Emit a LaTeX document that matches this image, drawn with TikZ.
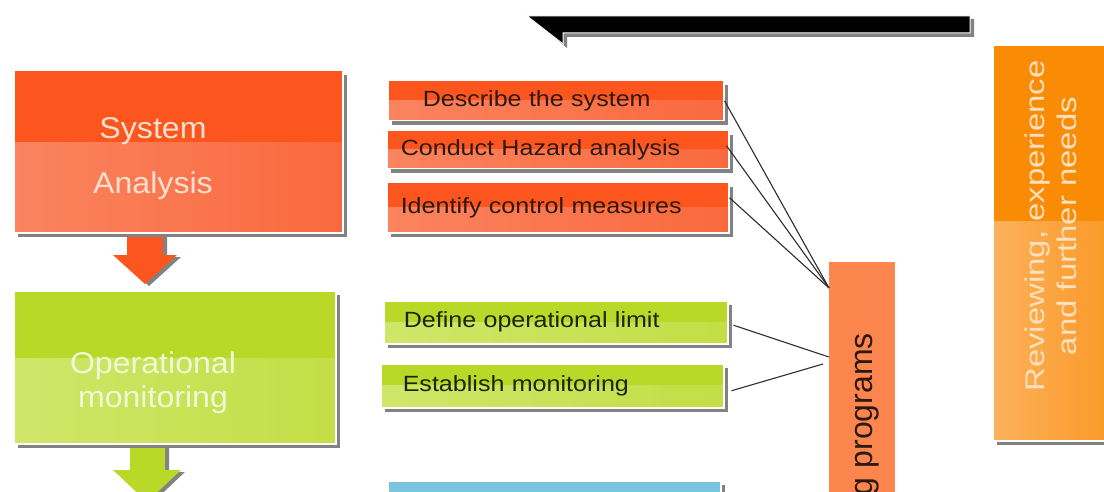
\documentclass[tikz,border=0pt]{standalone}
\usepackage{fontspec}
\setmainfont{Liberation Sans}
\newfontfamily\fsmall{Liberation Sans}[FakeStretch=1.14]
\newfontfamily\fbig{Liberation Sans}[FakeStretch=1.07]
\newfontfamily\fside{Liberation Sans}[FakeStretch=1.22]
\usetikzlibrary{shadows}

\definecolor{redTop}{RGB}{252,86,30}
\definecolor{redLow}{RGB}{250,132,95}
\definecolor{redLowR}{RGB}{250,105,62}
\definecolor{limeTop}{RGB}{186,216,40}
\definecolor{limeLow}{RGB}{208,230,105}
\definecolor{limeLowR}{RGB}{195,222,70}
\definecolor{orgTop}{RGB}{250,140,5}
\definecolor{orgLow}{RGB}{252,178,90}
\definecolor{orgLowR}{RGB}{250,150,35}
\definecolor{barOrg}{RGB}{252,134,78}
\definecolor{skyBlue}{RGB}{122,196,224}
\definecolor{shadowGray}{RGB}{130,130,130}
\definecolor{linkGray}{RGB}{45,45,45}
\definecolor{redText}{RGB}{45,25,15}
\definecolor{limeText}{RGB}{30,35,10}
\definecolor{paleRed}{RGB}{255,224,208}
\definecolor{paleLime}{RGB}{240,248,215}
\definecolor{paleOrg}{RGB}{255,224,190}

\tikzset{
  shadowed/.style={drop shadow={shadow xshift=4pt,shadow yshift=-4pt,fill=shadowGray,opacity=1}},
  panel/.style={draw=white, line width=1.5pt, inner sep=0pt, anchor=north west, shadowed},
  lowerhalf/.style n args={3}{path picture={
      \shade[left color=#1,right color=#2]
        ([yshift=#3]path picture bounding box.west) rectangle (path picture bounding box.south east);}},
  redpanel/.style={panel, fill=redTop, lowerhalf={redLow}{redLowR}{#1}},
  limepanel/.style={panel, fill=limeTop, lowerhalf={limeLow}{limeLowR}{#1}},
  itemtext/.style={font=\fsmall\fontsize{22}{26}\selectfont, align=left},
  bigtext/.style={font=\fbig\fontsize{30}{#1}\selectfont, align=center, inner sep=0pt},
  link/.style={draw=linkGray, line width=1.1pt},
  arrowshade/.style={fill=shadowGray},
}

\begin{document}
\begin{tikzpicture}[x=1pt,y=-1pt]
\useasboundingbox (0,0) rectangle (1104,492);
\clip (0,0) rectangle (1104,492);

% black banner along the top
\fill[shadowGray] (531,19) -- (974,19) -- (974,37) -- (567,37) -- (567,48) -- cycle;
\filldraw[fill=black, draw=white, line width=1pt]
  (527,16) -- (970,16) -- (970,33) -- (563,33) -- (563,44) -- cycle;

% down arrows between the stages
\fill[arrowshade] (131,233) -- (167,233) -- (167,257) -- (181,257) -- (149,286) -- (117,257) -- (131,257) -- cycle;
\fill[redTop] (127,230) -- (163,230) -- (163,255) -- (177,255) -- (145,284) -- (113,255) -- (127,255) -- cycle;
\fill[arrowshade] (134,444) -- (169,444) -- (169,472) -- (185,472) -- (151,504) -- (117,472) -- (134,472) -- cycle;
\fill[limeTop] (130,441) -- (165,441) -- (165,470) -- (181,470) -- (147,502) -- (113,470) -- (130,470) -- cycle;

% stage panels
\node[redpanel=9pt, minimum width=329pt, minimum height=162pt] (sa) at (13,70) {};
\node[bigtext=55pt, text=paleRed] (saText) at (153,159) {System\\Analysis};

\node[limepanel=9pt, minimum width=322pt, minimum height=153pt] (om) at (13,290) {};
\node[bigtext=34pt, text=paleLime] (omText) at (153,383) {Operational\\monitoring};

% task boxes of the system analysis
\node[redpanel=0pt, itemtext, text=redText, inner xsep=14pt, text width=308pt, minimum height=40pt] (d1) at (387,80) {\hspace*{21pt}Describe the system};
\node[redpanel=0pt, itemtext, text=redText, inner xsep=14pt, text width=314pt, minimum height=38pt] (d2) at (386,130) {Conduct Hazard analysis};
\node[redpanel=0pt, itemtext, text=redText, inner xsep=14pt, text width=314pt, minimum height=50pt] (d3) at (386,182) {Identify control measures};

% task boxes of the operational monitoring
\node[limepanel=0pt, itemtext, text=limeText, inner xsep=20pt, text width=304pt, minimum height=43pt] (g1) at (383,300) {Define operational limit};
\node[limepanel=0pt, itemtext, text=limeText, inner xsep=22pt, text width=299pt, minimum height=44pt] (g2) at (380,363) {Establish monitoring};

% next stage box
\node[panel, fill=skyBlue, minimum width=333pt, minimum height=40pt] (b1) at (387,480) {};

% vertical programme bar
\node[fill=barOrg, inner sep=0pt, anchor=north west, minimum width=66pt, minimum height=300pt] (bar) at (829,262) {};
\node[rotate=90, anchor=base east, inner sep=0pt, font=\fontsize{32}{38}\selectfont, text=redText] (barText) at (872,333) {g programs};

% review panel on the right
\node[panel, fill=orgTop, lowerhalf={orgLow}{orgLowR}{22pt}, minimum width=130pt, minimum height=395pt] (rv) at (992,45) {};
\node[rotate=90, font=\fside\fontsize{27}{32}\selectfont, align=center, inner sep=0pt, text=paleOrg] (rvText) at (1051,226) {Reviewing, experience\\and further needs};

% links into the programme bar
\coordinate (hubR) at (829,288);
\coordinate (hubG) at (829,357);
\coordinate (hubG2) at (823,364);
\draw[link] (d1.east) -- (hubR);
\draw[link] ([xshift=-3pt,yshift=4pt]d2.east) -- (hubR);
\draw[link] ([yshift=10pt]d3.east) -- (hubR);
\draw[link] ([xshift=5pt,yshift=-3pt]g1.east) -- (hubG);
\draw[link] ([xshift=7pt,yshift=-5pt]g2.east) -- (hubG2);
\end{tikzpicture}
\end{document}
